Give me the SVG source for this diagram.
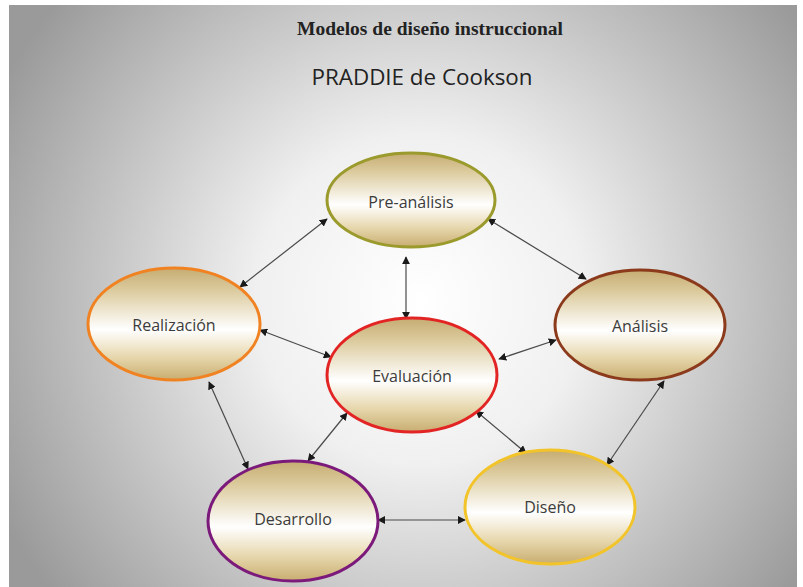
<svg xmlns="http://www.w3.org/2000/svg" width="803" height="587" viewBox="0 0 803 587">
  <defs>
    <radialGradient id="bg" cx="420" cy="300" r="470" gradientUnits="userSpaceOnUse">
      <stop offset="0" stop-color="#ffffff"/>
      <stop offset="0.35" stop-color="#f0f0f0"/>
      <stop offset="1" stop-color="#9a9a9a"/>
    </radialGradient>
    <linearGradient id="fill" x1="0" y1="0" x2="0" y2="1">
      <stop offset="0" stop-color="#c6ac72"/>
      <stop offset="0.2" stop-color="#dccb9e"/>
      <stop offset="0.55" stop-color="#ffffff"/>
      <stop offset="0.8" stop-color="#e6d6ab"/>
      <stop offset="1" stop-color="#c8ad70"/>
    </linearGradient>
    <marker id="head" viewBox="0 0 10 10" refX="9" refY="5" markerWidth="8" markerHeight="8" markerUnits="userSpaceOnUse" orient="auto-start-reverse">
      <path d="M0,0 L10,5 L0,10 Z" fill="#1a1a1a"/>
    </marker>
  </defs>
  <style>
    .node ellipse { fill: url(#fill); stroke-width: 3; }
    .node text { font-family: "Open Sans", "Liberation Sans", sans-serif; font-size: 16px; fill: #3c3c3c; text-anchor: middle; }
    .conn line { stroke: #4a4a4a; stroke-width: 1.2; marker-start: url(#head); marker-end: url(#head); }
  </style>

  <rect x="9" y="5" width="788" height="582" fill="url(#bg)"/>

  <text x="430" y="35" font-family="Liberation Serif, serif" font-weight="bold" font-size="18" fill="#222" text-anchor="middle" textLength="266" lengthAdjust="spacingAndGlyphs">Modelos de diseño instruccional</text>
  <text x="422" y="85" font-family="Open Sans, Liberation Sans, sans-serif" font-size="22" fill="#222" text-anchor="middle" textLength="221" lengthAdjust="spacingAndGlyphs">PRADDIE de Cookson</text>

  <g id="connectors" class="conn">
    <line x1="327" y1="219" x2="240" y2="287"/>
    <line x1="488" y1="219" x2="586" y2="279"/>
    <line x1="406" y1="257" x2="406" y2="319"/>
    <line x1="260" y1="330" x2="331" y2="357"/>
    <line x1="556" y1="340" x2="499" y2="359"/>
    <line x1="209" y1="382" x2="248" y2="469"/>
    <line x1="347" y1="413" x2="308" y2="461"/>
    <line x1="476" y1="411" x2="526" y2="453"/>
    <line x1="664" y1="381" x2="607" y2="465"/>
    <line x1="378" y1="520" x2="465" y2="520"/>
  </g>

  <g id="pre-analisis" class="node">
    <ellipse cx="411" cy="200" rx="84" ry="47" stroke="#9b9a2c"/>
    <text x="411" y="208">Pre-análisis</text>
  </g>
  <g id="realizacion" class="node">
    <ellipse cx="174" cy="324" rx="86" ry="56" stroke="#f08222"/>
    <text x="174" y="331">Realización</text>
  </g>
  <g id="analisis" class="node">
    <ellipse cx="640" cy="325" rx="85" ry="55" stroke="#8c3a1c"/>
    <text x="640" y="332">Análisis</text>
  </g>
  <g id="evaluacion" class="node">
    <ellipse cx="412" cy="375" rx="85" ry="57" stroke="#e32424"/>
    <text x="412" y="382">Evaluación</text>
  </g>
  <g id="desarrollo" class="node">
    <ellipse cx="293" cy="521" rx="85" ry="60" stroke="#7c1a7c"/>
    <text x="293" y="525">Desarrollo</text>
  </g>
  <g id="diseno" class="node">
    <ellipse cx="550" cy="507" rx="85" ry="57" stroke="#f2c42a"/>
    <text x="550" y="513">Diseño</text>
  </g>
</svg>
